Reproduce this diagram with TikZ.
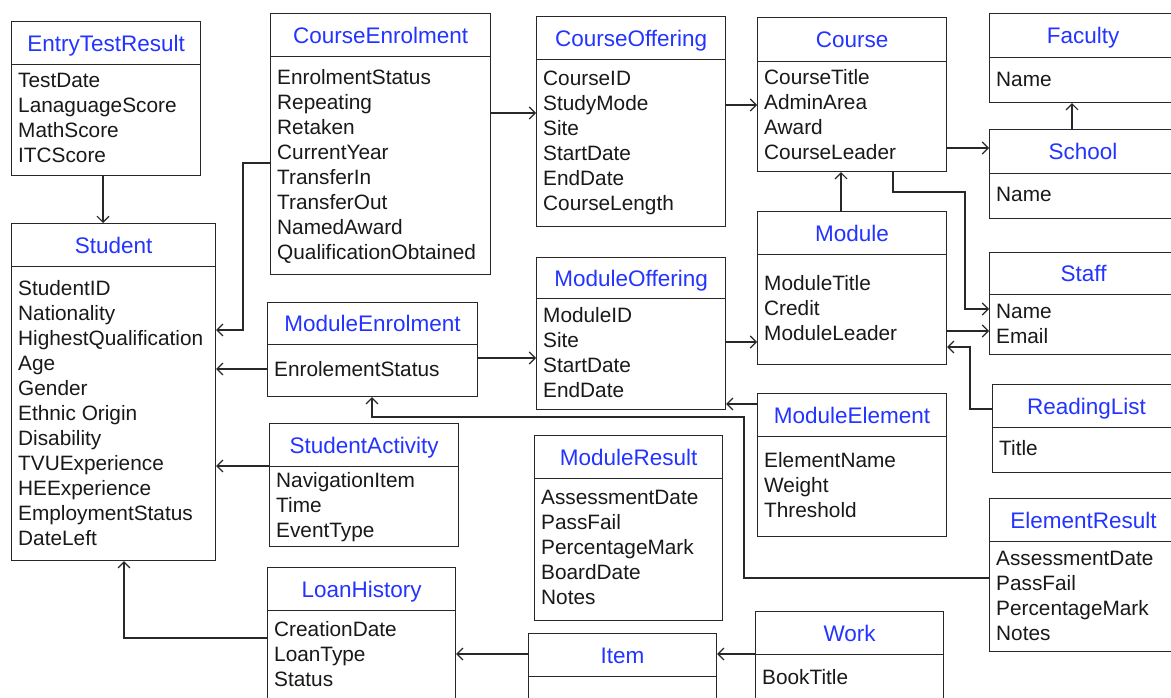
\documentclass[tikz,border=0pt]{standalone}
\usepackage{fontspec}
\setmainfont{Liberation Sans}
\usetikzlibrary{arrows.meta}
\definecolor{ttl}{RGB}{36,52,255}
\definecolor{ln}{RGB}{40,40,40}
\definecolor{txt}{RGB}{25,25,25}
% #1 name, #2 x1, #3 y1, #4 x2, #5 header line y, #6 y2, #7 title, #8 first attribute centre y, #9 attributes
\newcommand\umlcls[9]{%
  \node[hdr, minimum width={(#4)-(#2)}, minimum height={(#5)-(#3)}] (#1) at (#2,#3) {#7};
  \node[bodybox, minimum width={(#4)-(#2)}, minimum height={(#6)-(#5)}] (#1-b) at (#2,#5) {};
  \node[attr] (#1-a) at ({#2+7},{#8-10}) {\strut #9};
}
\tikzset{
  hdr/.style={draw=ln, line width=1.2pt, anchor=north west, inner sep=0pt, text=ttl,
    font=\fontsize{22.5}{27}\selectfont, text height=16.1pt, text depth=0pt},
  bodybox/.style={draw=ln, line width=1.2pt, anchor=north west, inner sep=0pt},
  attr/.style={anchor=north west, inner sep=0pt, align=left, text=txt,
    font=\fontsize{20.8}{25}\selectfont},
  arr/.style={draw=ln, line width=1.1pt, -{Straight Barb[length=6pt,width=12pt]}}
}
\begin{document}
\begin{tikzpicture}[x=1pt, y=-1pt]
\useasboundingbox (0,0) rectangle (1171,698);
\fill[white] (0,0) rectangle (1171,698);
\clip (0,0) rectangle (1171,698);

\umlcls{etr}{11}{21}{200}{64}{175}{EntryTestResult}{80}{TestDate\\LanaguageScore\\MathScore\\ITCScore}
\umlcls{stu}{11}{223}{215}{266}{560}{Student}{288}{StudentID\\Nationality\\HighestQualification\\Age\\Gender\\Ethnic Origin\\Disability\\TVUExperience\\HEExperience\\EmploymentStatus\\DateLeft}
\umlcls{ce}{270}{13}{490}{56}{274}{CourseEnrolment}{77}{EnrolmentStatus\\Repeating\\Retaken\\CurrentYear\\TransferIn\\TransferOut\\NamedAward\\QualificationObtained}
\umlcls{co}{536}{16}{725}{59}{226}{CourseOffering}{78}{CourseID\\StudyMode\\Site\\StartDate\\EndDate\\CourseLength}
\umlcls{crs}{757}{17}{946}{61}{171}{Course}{77}{CourseTitle\\AdminArea\\Award\\CourseLeader}
\umlcls{fac}{989}{13}{1176}{57}{102}{Faculty}{79}{Name}
\umlcls{sch}{989}{129}{1176}{173}{218}{School}{194}{Name}
\umlcls{mod}{757}{211}{946}{254}{364}{Module}{283}{ModuleTitle\\Credit\\ModuleLeader}
\umlcls{stf}{989}{252}{1177}{294}{354}{Staff}{311}{Name\\Email}
\umlcls{men}{267}{302}{477}{344}{396}{ModuleEnrolment}{369}{EnrolementStatus}
\umlcls{mo}{536}{257}{725}{298}{409}{ModuleOffering}{315}{ModuleID\\Site\\StartDate\\EndDate}
\umlcls{me}{757}{393}{946}{436}{536}{ModuleElement}{460}{ElementName\\Weight\\Threshold}
\umlcls{rl}{992}{384}{1180}{427}{472}{ReadingList}{448}{Title}
\umlcls{sa}{269}{423}{458}{466}{546}{StudentActivity}{480}{NavigationItem\\Time\\EventType}
\umlcls{mr}{534}{435}{722}{478}{620}{ModuleResult}{497}{AssessmentDate\\PassFail\\PercentageMark\\BoardDate\\Notes}
\umlcls{er}{989}{498}{1177}{541}{651}{ElementResult}{558}{AssessmentDate\\PassFail\\PercentageMark\\Notes}
\umlcls{lh}{267}{567}{455}{610}{720}{LoanHistory}{629}{CreationDate\\LoanType\\Status}
\umlcls{item}{528}{633}{716}{676}{720}{Item}{700}{}
\umlcls{work}{755}{611}{943}{654}{720}{Work}{677}{BookTitle}

% connectors
\draw[arr] (etr-b.south -| 103,0) -- (stu.north -| 103,0);
\draw[arr] (ce-b.west |- 0,163) -| (243,330) -- (stu-b.east |- 0,330);
\draw[arr] (ce-b.east |- 0,113) -- (co-b.west |- 0,113);
\draw[arr] (co-b.east |- 0,105) -- (crs-b.west |- 0,105);
\draw[arr] (crs-b.east |- 0,148) -- (sch.west |- 0,148);
\draw[arr] (sch.north -| 1072,0) -- (fac-b.south -| 1072,0);
\draw[arr] (mod.north -| 841,0) -- (crs-b.south -| 841,0);
\draw[arr] (crs-b.south -| 893,0) |- (965,192) |- (stf-b.west |- 0,309);
\draw[arr] (mod-b.east |- 0,331) -- (stf-b.west |- 0,331);
\draw[arr] (rl.west |- 0,409) -| (970,347) -- (mod-b.east |- 0,347);
\draw[arr] (mo-b.east |- 0,342) -- (mod-b.west |- 0,342);
\draw[arr] (me.west |- 0,404) -- (mo-b.east |- 0,404);
\draw[arr] (men-b.east |- 0,358) -- (mo-b.west |- 0,358);
\draw[arr] (men-b.west |- 0,369) -- (stu-b.east |- 0,369);
\draw[arr] (sa.west |- 0,466) -- (stu-b.east |- 0,466);
\draw[arr] (er-b.west |- 0,578) -| (744,417) -| (men-b.south -| 372,0);
\draw[arr] (lh-b.west |- 0,638) -| (stu-b.south -| 124,0);
\draw[arr] (item.west |- 0,654) -- (lh-b.east |- 0,654);
\draw[arr] (work-b.west |- 0,654) -- (item.east |- 0,654);
\end{tikzpicture}
\end{document}
